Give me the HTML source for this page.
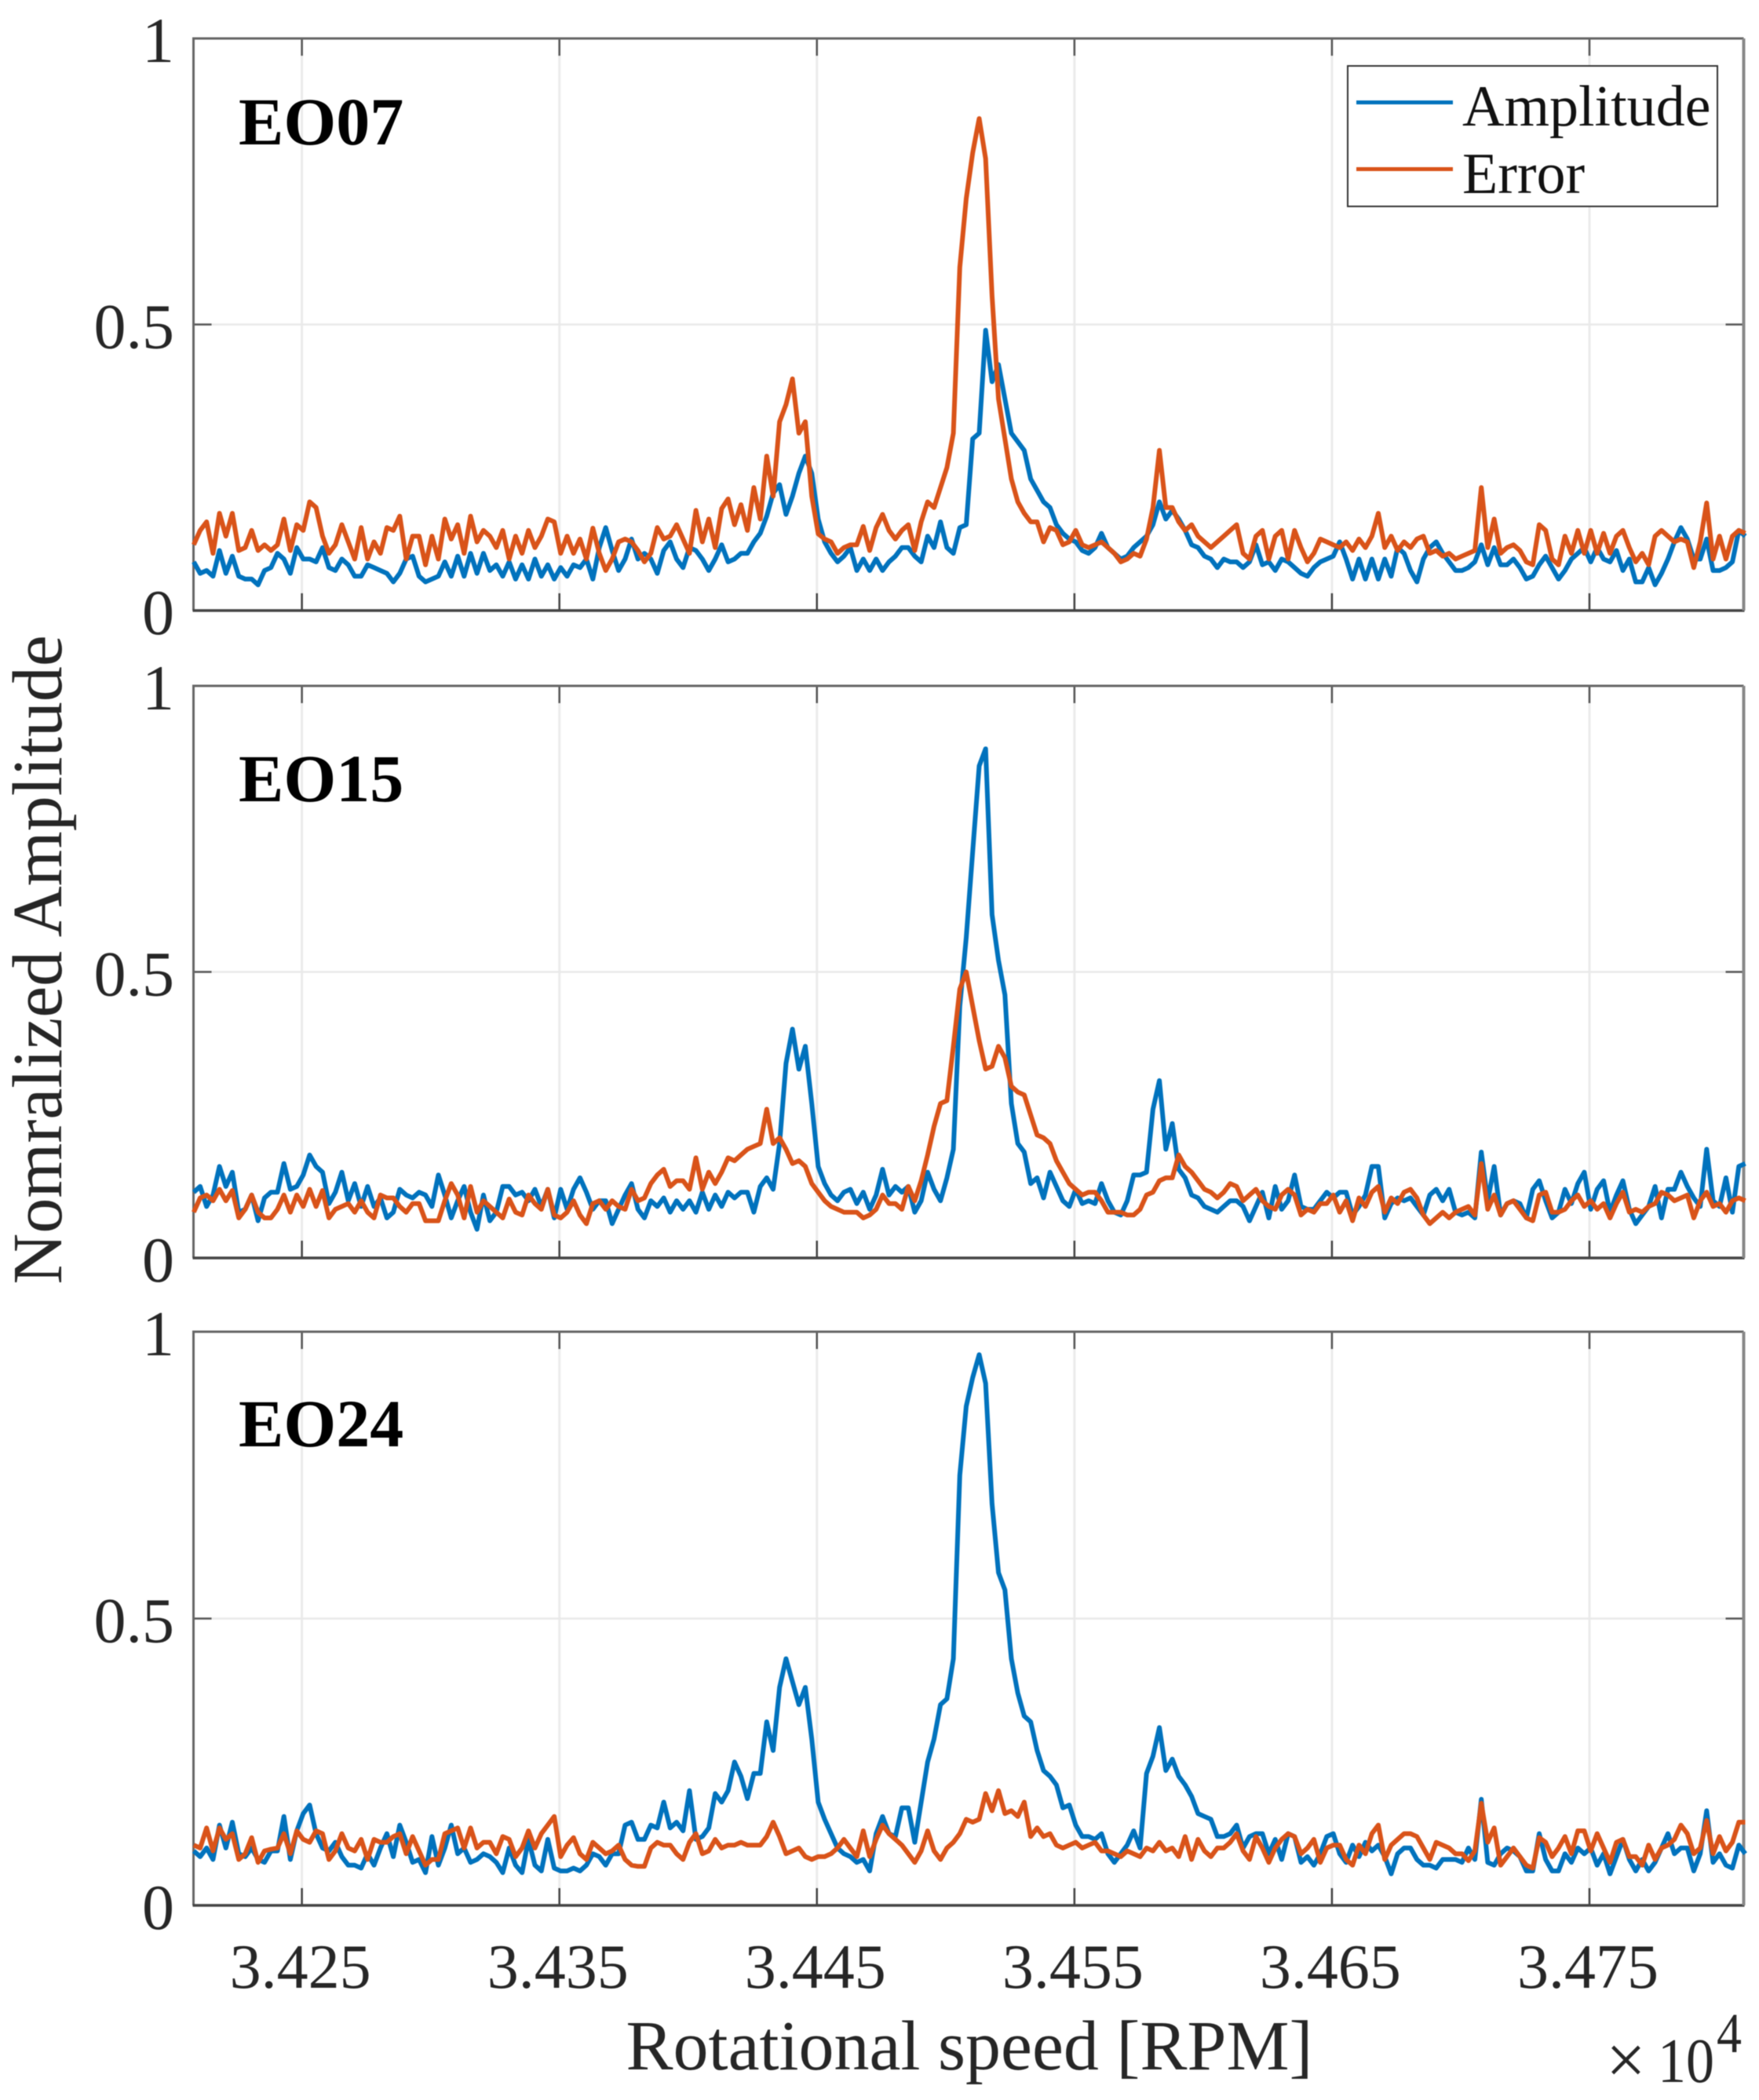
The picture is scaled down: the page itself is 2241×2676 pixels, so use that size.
<!DOCTYPE html>
<html>
<head>
<meta charset="utf-8">
<title>Normalized amplitude vs rotational speed</title>
<style>
html,body{margin:0;padding:0;background:#fff;}
svg{display:block;filter:blur(0.6px);}
text{font-family:"Liberation Serif","Times New Roman",serif;fill:#262626;}
</style>
</head>
<body>
<svg id="chart" xmlns="http://www.w3.org/2000/svg" width="2241" height="2676" viewBox="0 0 2241 2676">
<rect x="0" y="0" width="2241" height="2676" fill="#ffffff"/>
<g id="plots"></g>
<text transform="translate(78,1223) rotate(-90)" font-size="90" text-anchor="middle">Nomralized Amplitude</text>
<text x="1235" y="2637" font-size="90" text-anchor="middle">Rotational speed [RPM]</text>
<text x="2046" y="2655" font-size="90">×</text>
<text x="2112" y="2653" font-size="80" textLength="72" lengthAdjust="spacingAndGlyphs">10</text>
<text x="2187" y="2615" font-size="72" textLength="32" lengthAdjust="spacingAndGlyphs">4</text>
<text x="304" y="184" font-size="86" font-weight="bold" style="fill:#000">EO07</text>
<text x="304" y="1021" font-size="86" font-weight="bold" style="fill:#000">EO15</text>
<text x="304" y="1843" font-size="86" font-weight="bold" style="fill:#000">EO24</text>
<g>
<rect x="1717" y="84" width="471" height="179" fill="#ffffff" stroke="#333333" stroke-width="2"/>
<line x1="1728" y1="130.5" x2="1851" y2="130.5" stroke="#0072BD" stroke-width="5"/>
<text x="1863" y="160" font-size="74" style="fill:#111">Amplitude</text>
<line x1="1728" y1="215.5" x2="1851" y2="215.5" stroke="#D95319" stroke-width="5"/>
<text x="1863" y="246" font-size="74" style="fill:#111">Error</text>
</g>
</svg>
<script>
// Tick values and labels
const xTickValues = [34250, 34350, 34450, 34550, 34650, 34750];
const xTickLabels = ['3.425', '3.435', '3.445', '3.455', '3.465', '3.475'];
const yTickValues = [0, 0.5, 1];
const yTickLabels = ['0', '0.5', '1'];
// Sampling of the shared RPM axis
const rpmStart = 34208;
const rpmStep = 2.5;
// Panel 1: EO07
const amplitudeEO07 = [
.085,.065,.07,.06,.105,.065,.095,.06,.055,.055,.045,.07,.075,.10,.09,.065,.11,.09,.09,.085,
.11,.075,.07,.09,.08,.06,.06,.08,.075,.07,.065,.05,.065,.09,.095,.06,.05,.055,.06,.085,
.06,.095,.06,.10,.065,.10,.07,.08,.06,.085,.055,.08,.055,.09,.06,.08,.055,.075,.06,.08,
.075,.09,.055,.11,.145,.105,.07,.09,.125,.09,.10,.09,.065,.105,.12,.09,.075,.11,.105,.09,
.07,.09,.115,.085,.09,.10,.10,.12,.135,.165,.205,.22,.168,.20,.24,.27,.24,.16,.12,.10,
.085,.095,.11,.07,.09,.07,.09,.07,.085,.095,.11,.11,.095,.085,.13,.11,.155,.11,.10,.145,
.15,.30,.31,.49,.40,.43,.37,.31,.295,.28,.23,.21,.19,.18,.15,.135,.125,.12,.105,.10,
.11,.135,.11,.10,.09,.095,.11,.12,.13,.15,.19,.16,.175,.16,.14,.115,.11,.095,.09,.075,
.09,.085,.085,.075,.085,.115,.08,.085,.07,.09,.085,.075,.065,.06,.075,.085,.09,.095,.12,.09,
.055,.09,.055,.09,.055,.09,.06,.11,.10,.07,.05,.09,.11,.12,.10,.085,.07,.07,.075,.085,
.115,.08,.11,.08,.08,.09,.075,.055,.06,.08,.095,.075,.055,.07,.09,.10,.11,.085,.11,.09,
.085,.105,.07,.09,.05,.05,.075,.045,.065,.09,.12,.145,.125,.09,.09,.125,.07,.07,.075,.085,.14,.13
];
const errorEO07 = [
.115,.14,.155,.10,.17,.13,.17,.105,.11,.14,.105,.115,.105,.115,.16,.105,.15,.14,.19,.18,
.13,.10,.115,.15,.12,.09,.145,.09,.12,.10,.145,.14,.165,.09,.13,.13,.08,.13,.09,.16,
.125,.15,.10,.165,.12,.14,.13,.11,.14,.09,.13,.10,.14,.11,.13,.16,.155,.10,.13,.10,
.125,.09,.144,.10,.07,.09,.12,.125,.12,.105,.085,.10,.145,.125,.13,.15,.125,.10,.175,.12,
.16,.11,.178,.195,.15,.185,.14,.215,.16,.27,.20,.33,.36,.405,.31,.33,.20,.134,.125,.12,
.10,.11,.115,.115,.147,.105,.145,.168,.14,.125,.14,.15,.105,.155,.19,.18,.215,.25,.31,.60,
.72,.80,.86,.79,.55,.37,.30,.23,.19,.17,.155,.155,.12,.145,.14,.115,.12,.14,.115,.11,
.115,.12,.11,.10,.085,.09,.10,.095,.125,.18,.28,.18,.18,.155,.14,.15,.13,.12,.11,.12,
.13,.14,.15,.10,.09,.13,.14,.09,.13,.14,.09,.14,.11,.085,.10,.125,.12,.115,.11,.12,
.105,.125,.11,.13,.17,.11,.13,.105,.12,.11,.125,.13,.10,.105,.095,.10,.09,.095,.10,.105,
.215,.11,.16,.10,.11,.115,.105,.085,.08,.15,.14,.09,.08,.13,.10,.14,.10,.14,.10,.135,
.10,.13,.14,.11,.085,.10,.08,.13,.14,.13,.12,.125,.12,.075,.12,.188,.09,.13,.09,.13,.14,.135
];
// Panel 2: EO15
const amplitudeEO15 = [
.115,.125,.09,.11,.16,.125,.15,.08,.085,.11,.065,.105,.115,.115,.165,.12,.125,.145,.18,.16,
.15,.095,.115,.15,.10,.13,.09,.125,.09,.105,.07,.08,.12,.11,.105,.115,.11,.09,.145,.11,
.07,.10,.125,.08,.05,.11,.065,.08,.125,.125,.11,.115,.10,.12,.09,.12,.07,.12,.085,.12,
.14,.115,.085,.10,.10,.06,.085,.11,.13,.085,.07,.10,.09,.105,.08,.10,.085,.10,.08,.115,
.085,.11,.09,.115,.105,.115,.115,.08,.125,.14,.12,.20,.34,.40,.33,.37,.27,.16,.13,.11,
.10,.115,.12,.095,.115,.085,.11,.155,.11,.125,.115,.125,.08,.10,.15,.12,.10,.14,.19,.44,
.56,.71,.86,.89,.60,.52,.46,.27,.20,.185,.13,.14,.105,.15,.125,.10,.09,.12,.095,.10,
.095,.13,.10,.08,.075,.10,.145,.145,.15,.26,.31,.19,.235,.155,.14,.11,.105,.09,.085,.08,
.09,.10,.10,.09,.065,.09,.115,.07,.125,.085,.10,.145,.09,.085,.085,.10,.115,.105,.115,.115,
.075,.09,.11,.16,.16,.07,.095,.105,.10,.105,.09,.075,.11,.12,.10,.12,.08,.075,.08,.07,
.185,.10,.16,.075,.095,.10,.095,.07,.12,.135,.10,.07,.08,.12,.095,.13,.15,.085,.12,.135,
.08,.11,.135,.085,.06,.075,.09,.125,.07,.12,.12,.15,.125,.105,.09,.19,.10,.09,.14,.08,.16,.165
];
const errorEO15 = [
.08,.105,.11,.10,.12,.10,.118,.07,.085,.11,.08,.07,.07,.085,.11,.08,.11,.09,.12,.09,
.118,.07,.085,.09,.095,.08,.10,.08,.07,.11,.105,.105,.09,.08,.095,.095,.065,.065,.065,.10,
.13,.11,.07,.125,.08,.10,.09,.08,.07,.103,.08,.075,.11,.095,.085,.12,.075,.07,.08,.10,
.075,.06,.095,.10,.085,.10,.09,.085,.12,.10,.105,.13,.145,.155,.125,.135,.135,.12,.175,.12,
.15,.13,.15,.175,.17,.18,.19,.195,.20,.26,.20,.21,.19,.165,.17,.16,.13,.115,.10,.09,
.085,.08,.08,.08,.07,.075,.085,.11,.095,.095,.085,.125,.10,.135,.18,.23,.27,.275,.37,.47,
.50,.44,.38,.33,.335,.37,.35,.30,.29,.285,.25,.215,.21,.20,.17,.15,.13,.12,.11,.115,
.115,.10,.08,.08,.08,.075,.075,.085,.11,.115,.135,.14,.14,.18,.16,.15,.135,.12,.115,.105,
.115,.13,.125,.10,.11,.12,.10,.09,.085,.11,.12,.11,.075,.085,.08,.095,.095,.11,.08,.10,
.065,.105,.09,.115,.125,.08,.105,.095,.115,.12,.105,.075,.06,.07,.08,.07,.08,.085,.09,.075,
.165,.085,.11,.075,.095,.10,.085,.07,.065,.11,.115,.08,.08,.085,.10,.11,.09,.10,.085,.095,
.07,.095,.115,.08,.085,.08,.09,.095,.115,.11,.10,.105,.11,.07,.10,.115,.09,.095,.08,.10,.105,.10
];
// Panel 3: EO24
const amplitudeEO24 = [
.095,.085,.10,.08,.14,.10,.145,.09,.085,.10,.08,.075,.095,.095,.155,.08,.13,.16,.175,.125,
.10,.095,.11,.085,.07,.07,.065,.09,.07,.10,.125,.085,.14,.11,.075,.08,.057,.12,.07,.10,
.14,.09,.10,.075,.08,.09,.085,.075,.057,.10,.07,.057,.115,.07,.06,.115,.065,.06,.06,.065,
.06,.07,.09,.085,.07,.09,.09,.14,.145,.115,.115,.14,.135,.18,.135,.145,.13,.20,.115,.12,
.135,.195,.18,.20,.25,.225,.186,.23,.23,.32,.27,.38,.43,.39,.35,.38,.29,.18,.15,.125,
.10,.09,.085,.075,.08,.06,.125,.155,.125,.12,.17,.17,.11,.18,.25,.29,.35,.36,.43,.75,
.87,.92,.96,.91,.70,.58,.55,.43,.37,.33,.32,.27,.235,.225,.21,.17,.175,.14,.12,.12,
.115,.125,.09,.075,.09,.105,.13,.10,.23,.26,.31,.235,.255,.225,.21,.19,.16,.155,.15,.12,
.12,.125,.14,.10,.12,.125,.125,.09,.115,.08,.125,.12,.075,.085,.07,.09,.12,.125,.09,.075,
.105,.085,.11,.095,.105,.085,.055,.09,.10,.10,.08,.07,.07,.065,.08,.08,.08,.075,.10,.08,
.185,.075,.07,.09,.10,.095,.085,.06,.06,.125,.08,.06,.06,.09,.075,.10,.09,.10,.07,.09,
.055,.085,.115,.08,.06,.08,.06,.075,.10,.125,.09,.10,.10,.06,.09,.165,.075,.09,.07,.065,.105,.09
];
const errorEO24 = [
.105,.10,.135,.095,.135,.115,.125,.08,.09,.118,.075,.095,.098,.10,.125,.09,.13,.115,.11,.13,
.125,.08,.095,.125,.10,.095,.115,.08,.115,.11,.11,.12,.125,.09,.12,.095,.07,.08,.08,.125,
.13,.135,.10,.135,.10,.11,.11,.09,.12,.115,.085,.10,.13,.10,.125,.14,.155,.085,.105,.118,
.09,.08,.11,.10,.09,.095,.105,.08,.07,.068,.068,.10,.11,.105,.105,.09,.08,.11,.125,.09,
.095,.115,.10,.105,.105,.11,.105,.105,.105,.12,.145,.12,.09,.095,.10,.085,.08,.085,.085,.09,
.10,.115,.10,.085,.13,.085,.115,.14,.125,.115,.105,.09,.075,.095,.13,.095,.08,.10,.11,.125,
.15,.145,.15,.195,.165,.20,.16,.165,.155,.18,.12,.135,.12,.125,.105,.10,.105,.11,.10,.105,
.11,.095,.095,.09,.085,.095,.09,.085,.10,.095,.11,.095,.10,.085,.12,.08,.115,.095,.085,.10,
.10,.11,.125,.095,.08,.12,.10,.075,.10,.115,.125,.12,.09,.10,.115,.075,.10,.105,.105,.08,
.07,.105,.09,.125,.14,.08,.105,.115,.125,.125,.12,.10,.08,.11,.105,.10,.09,.09,.078,.095,
.178,.11,.135,.07,.085,.10,.085,.07,.065,.118,.11,.085,.10,.12,.09,.13,.13,.095,.125,.10,
.075,.11,.115,.085,.085,.07,.105,.08,.10,.105,.115,.14,.125,.09,.10,.148,.09,.12,.095,.11,.145,.145
];

const panelNames = ['eo07', 'eo15', 'eo24'];
const panelAmplitude = [amplitudeEO07, amplitudeEO15, amplitudeEO24];
const panelError = [errorEO07, errorEO15, errorEO24];

// Layout
const plotLeft = 246.5, plotRight = 2221.5;
const panelTop = [49, 874, 1697];
const panelBottom = [778, 1603, 2428];
const xMin = 34207.9, xMax = 34809.9;
const SVGNS = 'http://www.w3.org/2000/svg';
const plots = document.getElementById('plots');

function xScale(rpm) {
  return plotLeft + (rpm - xMin) / (xMax - xMin) * (plotRight - plotLeft);
}
function yScale(value, top, bottom) {
  return bottom - (bottom - top) * value;
}
function makeLine(parent, x1, y1, x2, y2, color, width) {
  const el = document.createElementNS(SVGNS, 'line');
  el.setAttribute('x1', x1);
  el.setAttribute('y1', y1);
  el.setAttribute('x2', x2);
  el.setAttribute('y2', y2);
  el.setAttribute('stroke', color);
  el.setAttribute('stroke-width', width);
  parent.appendChild(el);
  return el;
}
function seriesPath(values, top, bottom) {
  return values.map(function (v, i) {
    const px = xScale(rpmStart + rpmStep * i);
    return (i ? 'L' : 'M') + px.toFixed(1) + ' ' + yScale(v, top, bottom).toFixed(1);
  }).join('');
}
function makeText(parent, x, y, size, anchor, str) {
  const el = document.createElementNS(SVGNS, 'text');
  el.setAttribute('x', x);
  el.setAttribute('y', y);
  el.setAttribute('font-size', size);
  el.setAttribute('text-anchor', anchor);
  el.textContent = str;
  parent.appendChild(el);
  return el;
}

panelNames.forEach(function (name, p) {
  const top = panelTop[p];
  const bottom = panelBottom[p];
  const g = document.createElementNS(SVGNS, 'g');
  
  
  plots.appendChild(g);

  xTickValues.forEach(function (t, i) {
    const px = xScale(t);
    const grid = makeLine(g, px, top, px, bottom, '#ebebeb', 3);
    
    
    const tb = makeLine(g, px, bottom, px, bottom - 22, '#444444', 2.5);
    
    
    const tt = makeLine(g, px, top, px, top + 22, '#555555', 2.5);
    
    
    if (p === 2) {
      const label = makeText(g, px - 2, 2533, 80, 'middle', xTickLabels[i]);
      
      
    }
  });

  yTickValues.forEach(function (t, i) {
    const py = yScale(t, top, bottom);
    if (t > 0 && t < 1) {
      const grid = makeLine(g, plotLeft, py, plotRight, py, '#e9e9e9', 2.5);
      
      
      const tl = makeLine(g, plotLeft, py, plotLeft + 23, py, '#555555', 2.5);
      
      
      const tr = makeLine(g, plotRight, py, plotRight - 23, py, '#555555', 2.5);
      
      
    }
    const label = makeText(g, 222, py + 30, 82, 'end', yTickLabels[i]);
    
    
  });

  const box = document.createElementNS(SVGNS, 'path');
  box.setAttribute('d', 'M' + plotLeft + ' ' + bottom + 'V' + top + 'H' + plotRight);
  box.setAttribute('fill', 'none');
  box.setAttribute('stroke', '#666666');
  box.setAttribute('stroke-width', '3');
  
  
  g.appendChild(box);
  const bottomEdge = makeLine(g, plotLeft - 1, bottom, plotRight + 1, bottom, '#444444', 3.5);
  
  
  const rightEdge = makeLine(g, plotRight, top, plotRight, bottom, '#888888', 4);
  
  

  const amp = document.createElementNS(SVGNS, 'path');
  amp.setAttribute('d', seriesPath(panelAmplitude[p], top, bottom));
  amp.setAttribute('fill', 'none');
  amp.setAttribute('stroke', '#0072BD');
  amp.setAttribute('stroke-width', '6');
  amp.setAttribute('stroke-linejoin', 'round');
  
  
  g.appendChild(amp);

  const err = document.createElementNS(SVGNS, 'path');
  err.setAttribute('d', seriesPath(panelError[p], top, bottom));
  err.setAttribute('fill', 'none');
  err.setAttribute('stroke', '#D95319');
  err.setAttribute('stroke-width', '6');
  err.setAttribute('stroke-linejoin', 'round');
  
  
  g.appendChild(err);
});
</script>
</body>
</html>
